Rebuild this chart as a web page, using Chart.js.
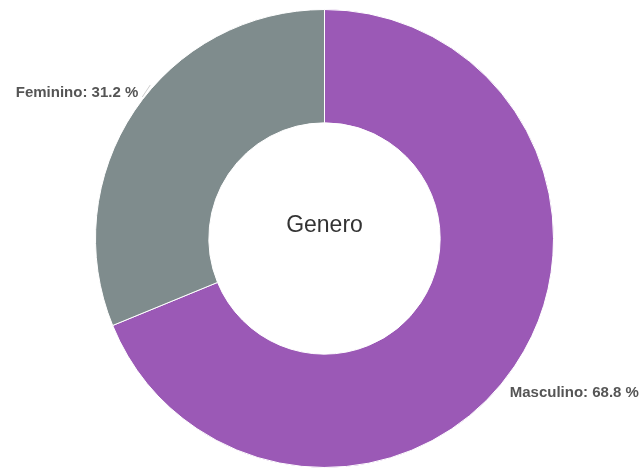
<!DOCTYPE html>
<html>
<head>
<meta charset="utf-8">
<script src="https://cdn.jsdelivr.net/npm/chart.js@4.4.0/dist/chart.umd.min.js"></script>
<style>
  html, body { margin: 0; padding: 0; background: #fff; }
  #wrap { width: 642px; height: 468px; }
</style>
</head>
<body>
<div id="wrap"><canvas id="generoChart"></canvas></div>
<script>
// chart data
const categories = ['Masculino', 'Feminino'];
const percents = [68.8, 31.2];
const sliceColors = ['#9b59b6', '#7f8c8d'];
const centerTitle = 'Genero';

// center text + outside labels
const labelPlugin = {
    id: 'generoLabels',
    afterDatasetsDraw(chart) {
        const ctx = chart.ctx;
        const meta = chart.getDatasetMeta(0);
        const first = meta.data[0];
        const cx = first.x, cy = first.y;

        ctx.save();
        ctx.fillStyle = '#333333';
        ctx.font = '23px "Liberation Sans", Arial, sans-serif';
        ctx.textAlign = 'center';
        ctx.textBaseline = 'middle';
        ctx.fillText(centerTitle, cx, cy - 13);

        ctx.font = 'bold 15px "Liberation Sans", Arial, sans-serif';
        meta.data.forEach((arc, i) => {
            const mid = (arc.startAngle + arc.endAngle) / 2;
            const dx = Math.cos(mid), dy = Math.sin(mid);
            const px = cx + arc.outerRadius * dx;
            const py = cy + arc.outerRadius * dy;
            const left = dx < 0;
            const tx = px + (left ? 4 : -5);
            const ty = py + (dy < 0 ? -18 : 27);
            ctx.textAlign = left ? 'right' : 'left';
            ctx.fillStyle = '#555555';
            ctx.fillText(categories[i] + ': ' + percents[i] + ' %', tx, ty);
            if (left) {
                // faint connector
                ctx.strokeStyle = 'rgba(200,200,200,0.9)';
                ctx.lineWidth = 1;
                ctx.beginPath();
                ctx.moveTo(tx + 4, ty + 4);
                ctx.lineTo(tx + 12, ty - 8);
                ctx.stroke();
            }
        });
        ctx.restore();
    }
};

new Chart(document.getElementById('generoChart'), {
    type: 'doughnut',
    data: {
        labels: categories,
        datasets: [{
            data: percents,
            backgroundColor: sliceColors,
            borderColor: '#ffffff',
            borderWidth: 1
        }]
    },
    options: {
        responsive: true,
        maintainAspectRatio: false,
        animation: false,
        cutout: '50.5%',
        layout: { padding: { top: 9, left: 7, right: 0, bottom: 0 } },
        plugins: {
            legend: { display: false },
            tooltip: { enabled: false }
        }
    },
    plugins: [labelPlugin]
});
</script>
</body>
</html>
